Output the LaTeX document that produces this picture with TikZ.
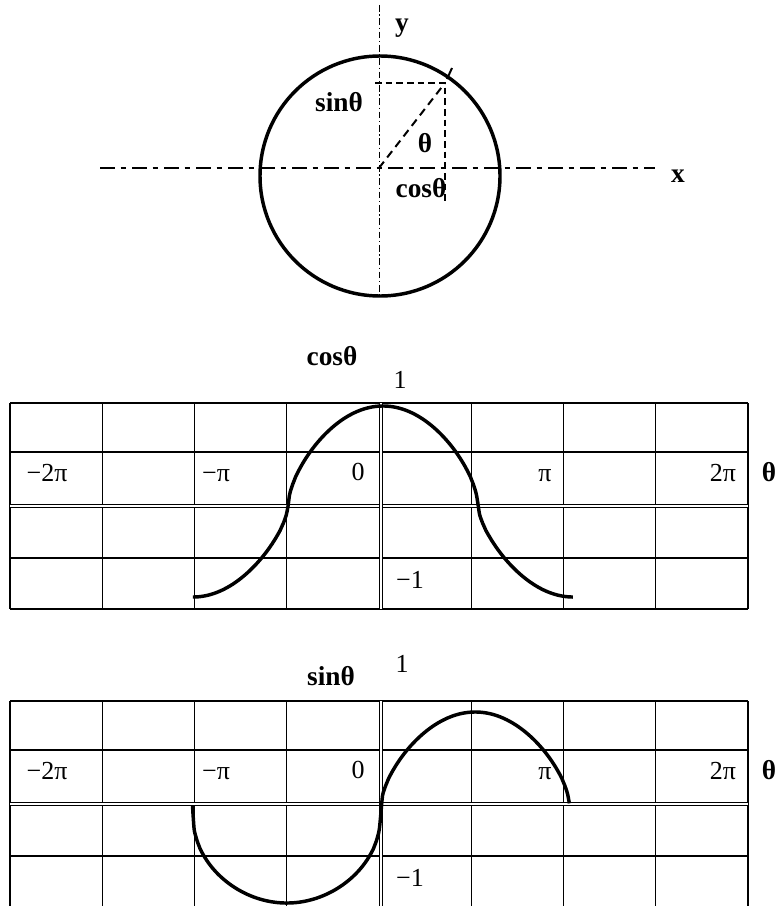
\documentclass[tikz,border=0pt]{standalone}
\usepackage{fontspec}
\setmainfont{Liberation Serif}
\begin{document}
\begin{tikzpicture}[x = .75pt, y = -.75pt,
    lbl/.style = {font = \fontsize{19.5}{22}\selectfont, inner sep = 0pt, anchor = base},
    boldlbl/.style = {font = \fontsize{20.5}{24}\selectfont\bfseries, inner sep = 0pt, anchor = base},
    gridline/.style = {line width = 1.1pt},
    zeroline/.style = {double, line width = .7pt, double distance = 2.2pt},
    curve/.style = {line width = 2.6pt}]
  \useasboundingbox (0,0) rectangle (779,906);
  \clip (0,0) rectangle (779,906);
  \coordinate (o) at (379,168);
  \coordinate (p) at (445,83);
  \coordinate (xl) at (100,168);
  \coordinate (xr) at (655,168);
  \coordinate (yt) at (379,5);
  \coordinate (yb) at (379,297);
  \draw [line width = 2.6pt] (380,176) circle (120);
  \draw [line width = 2.2pt, dash pattern = on 11pt off 4.5pt on 4pt off 4.5pt] (xl) -- (xr);
  \draw [line width = .6pt, dash pattern = on 5pt off 2pt on 1pt off 2pt] (yt) -- (yb);
  \draw [line width = 1.5pt, dash pattern = on 6pt off 4pt] (o) -- (p);
  \draw [line width = 1pt, dash pattern = on 5pt off 3pt] (375,83) -- (p) -- (445,203);
  \draw [line width = 1.5pt] (447,79) -- (452,68);
  \node [boldlbl] (ylab) at (402,32) {y};
  \node [boldlbl] (xlab) at (678,182) {x};
  \node [boldlbl] (sinlab) at (339,112) {sinθ};
  \node [boldlbl] (thlab) at (425,152) {θ};
  \node [boldlbl] (coslab) at (421,197) {cosθ};
  \foreach \t in {403, 701} {
    \foreach \i in {0, 1, 2, 3, 5, 6, 7, 8}
      \draw [gridline] ({10 + 92.25*\i}, \t) --++ (0,206);
    \foreach \j in {0, 49, 155, 206}
      \draw [gridline] (10, \t + \j) --++ (738,0);
    \draw [zeroline] (10, \t + 103) --++ (738,0);
    \draw [zeroline] (381, \t) --++ (0,206);
    \node [lbl] (mtwopi\t) at (47, \t + 78) {−2π};
    \node [lbl] (mpi\t) at (216, \t + 78) {−π};
    \node [lbl] (zero\t) at (358, \t + 77) {0};
    \node [lbl] (pi\t) at (545, \t + 78) {π};
    \node [lbl] (twopi\t) at (723, \t + 78) {2π};
    \node [boldlbl] (theta\t) at (769, \t + 78) {θ};
    \node [lbl] (mone\t) at (410, \t + 185) {−1};
  }
  \node [boldlbl] (cosgraph) at (332,365) {cosθ};
  \node [lbl] (onecos) at (400,388) {1};
  \node [boldlbl] (singraph) at (331,685) {sinθ};
  \node [lbl] (onesin) at (402,672) {1};
  \draw [curve] plot [domain = -pi:pi, samples = 241, smooth]
    ({383 + 60.5*\x}, {506 - (cos(\x r) > 0 ? 100*pow(abs(cos(\x r)),.6)
                                           : -91*pow(abs(cos(\x r)),.65))});
  \draw [curve] plot [domain = -pi:pi, samples = 241, smooth]
    ({381 + 60*\x}, {806 - (sin(\x r) > 0 ? 94*pow(abs(sin(\x r)),.6)
                                          : -97*pow(abs(sin(\x r)),.4))});
\end{tikzpicture}
\end{document}
